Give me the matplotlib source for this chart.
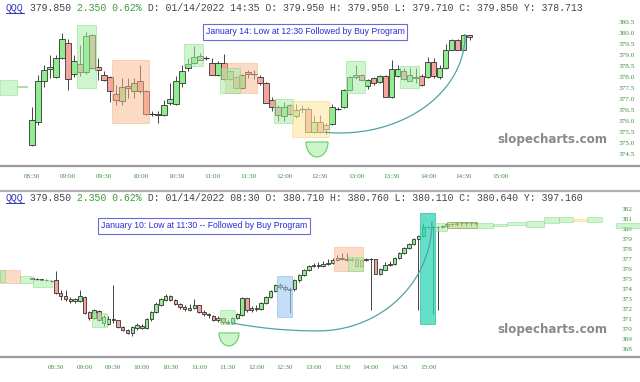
import numpy as np
import matplotlib
matplotlib.use('Agg')
import matplotlib.pyplot as plt
import matplotlib.transforms as mtransforms
from matplotlib.patches import Rectangle, Polygon

W, H = 640, 382

# ---------------- data: Jan 14 (top), 5-min candles from 08:30
top_open = [374.95, 376.00, 377.85, 378.40, 378.05, 378.90, 379.60, 378.20, 378.65, 378.25, 379.95, 378.50,
            378.15, 378.05, 377.25, 376.95, 377.65, 377.40, 377.85, 377.40, 376.35, 376.35, 376.30, 376.85,
            376.80, 377.75, 378.45, 378.70, 379.00, 378.90, 378.70, 378.15, 378.70, 377.95, 378.05, 377.55,
            378.25, 378.20, 378.05, 377.75, 377.00, 376.70, 376.25, 376.75, 376.25, 376.60, 376.60, 375.55,
            376.00, 375.70, 375.90, 376.60, 376.70, 377.45, 378.05, 378.15, 377.65, 378.00, 377.80, 378.10,
            377.15, 378.10, 378.30, 377.88, 378.05, 378.10, 378.06, 378.74, 378.06, 378.44, 379.27, 379.73,
            379.27, 379.95]
top_high = [376.70, 378.15, 378.60, 379.05, 379.05, 380.05, 379.75, 379.05, 379.50, 380.10, 380.00, 378.90,
            378.30, 378.10, 377.70, 378.00, 378.00, 378.00, 378.60, 377.45, 376.50, 376.50, 377.00, 377.75,
            378.10, 378.60, 378.90, 379.45, 379.15, 379.00, 378.90, 378.75, 379.10, 378.35, 378.10, 378.20,
            378.35, 378.35, 378.15, 377.80, 377.15, 376.75, 376.90, 376.80, 376.80, 376.75, 376.70, 376.30,
            376.30, 375.95, 376.80, 376.70, 377.50, 378.10, 378.60, 378.20, 377.95, 378.05, 378.15, 378.15,
            378.80, 378.60, 378.45, 378.45, 378.45, 378.20, 378.95, 378.90, 378.60, 379.55, 379.75, 379.75,
            380.00, 379.95]
top_low = [374.90, 375.85, 377.60, 378.00, 378.00, 378.85, 377.45, 378.05, 378.10, 378.20, 378.40, 377.90,
           377.85, 376.90, 376.75, 376.75, 377.10, 377.10, 377.30, 376.30, 376.25, 375.95, 376.25, 376.75,
           376.75, 377.60, 378.30, 378.65, 378.80, 378.80, 378.15, 378.10, 377.90, 377.90, 377.50, 377.50,
           378.00, 377.95, 377.70, 376.85, 376.50, 376.05, 376.05, 376.30, 376.20, 376.40, 375.55, 375.50,
           375.50, 375.45, 375.85, 376.55, 376.65, 377.40, 377.95, 377.85, 377.50, 377.70, 377.75, 377.15,
           377.10, 378.05, 377.90, 377.85, 377.75, 377.65, 378.00, 378.00, 377.95, 378.40, 379.25, 379.25,
           379.25, 379.71]
top_close = [376.10, 377.85, 378.35, 378.50, 378.90, 379.75, 377.95, 378.75, 378.25, 379.90, 378.45, 378.35,
             377.90, 377.40, 377.00, 377.60, 377.55, 377.75, 377.40, 376.35, 376.35, 376.30, 376.75, 377.05,
             377.85, 378.30, 378.65, 378.95, 378.80, 378.90, 378.15, 378.70, 377.95, 378.30, 377.55, 378.15,
             378.20, 378.20, 377.75, 376.85, 376.70, 376.30, 376.70, 376.35, 376.55, 376.60, 375.55, 376.00,
             375.55, 375.85, 376.70, 376.60, 377.45, 378.05, 378.15, 377.90, 377.90, 377.75, 378.10, 377.15,
             378.40, 378.42, 377.95, 378.14, 378.00, 377.70, 378.74, 378.09, 378.47, 379.27, 379.73, 379.27,
             379.95, 379.85]

# ---------------- data: Jan 10 (bottom), 5-min candles from 08:05
bot_open = [375.10, 375.05, 375.00, 374.95, 374.90, 374.90, 373.70, 373.35, 373.10, 372.85, 372.90,
            373.30, 371.75, 371.15, 371.90, 370.70, 370.55, 371.05, 370.95, 370.30, 369.95, 369.65, 370.20,
            370.40, 370.20, 371.05, 371.75, 372.50, 373.00, 373.40, 373.00, 372.60, 372.30, 372.00, 372.20,
            372.45, 371.80, 371.60, 371.40, 371.00, 371.15, 370.75, 370.70, 371.20, 371.50, 373.15, 371.95,
            372.20, 372.10, 372.70, 373.30, 373.90, 374.45, 374.30, 374.10, 374.05, 374.90, 375.40, 375.90,
            376.30, 376.45, 376.30, 376.50, 376.60, 376.90, 377.10, 377.00, 376.95, 377.00, 376.30, 376.90,
            377.00, 377.00, 375.50, 375.95, 376.40, 376.50, 377.10, 377.60, 378.10, 378.50, 379.00, 379.30,
            380.25, 380.20, 380.20, 380.20, 380.30, 380.50, 380.55, 380.60, 380.60, 380.65, 380.60]
bot_high = [375.15, 375.10, 375.05, 375.00, 374.95, 375.80, 374.00, 374.00, 373.30, 373.20, 374.00,
            373.40, 371.90, 372.10, 372.00, 371.50, 371.40, 374.45, 371.00, 370.40, 370.10, 370.40, 370.70,
            370.60, 371.20, 371.90, 372.80, 373.20, 373.55, 373.50, 373.10, 372.70, 372.50, 372.60, 373.10,
            372.50, 372.00, 371.70, 371.50, 371.40, 371.20, 371.00, 371.30, 371.70, 373.30, 373.20, 372.40,
            372.50, 372.80, 373.40, 374.00, 374.60, 374.70, 374.50, 374.30, 375.00, 375.50, 376.00, 376.40,
            376.60, 376.70, 376.80, 377.00, 377.10, 377.40, 377.60, 377.60, 377.20, 377.10, 377.00, 377.10,
            377.10, 377.05, 376.10, 376.70, 376.80, 377.20, 377.70, 378.20, 378.60, 379.10, 379.40, 380.60,
            380.35, 380.30, 380.30, 380.45, 380.60, 380.65, 380.70, 380.70, 380.75, 380.75, 380.70]
bot_low = [375.05, 374.95, 374.90, 374.85, 374.80, 373.60, 373.00, 372.90, 372.70, 372.70, 372.80,
           371.60, 371.00, 371.10, 370.90, 370.35, 370.50, 370.70, 370.20, 369.85, 369.55, 369.35, 370.00,
           370.05, 370.10, 370.90, 371.70, 372.40, 372.90, 372.85, 372.45, 372.10, 371.90, 371.90, 372.10,
           371.70, 371.40, 371.20, 370.85, 370.80, 370.60, 370.55, 370.60, 371.10, 371.40, 371.80, 371.80,
           371.90, 372.00, 372.60, 373.20, 373.80, 374.10, 373.90, 371.70, 373.90, 374.80, 375.30, 375.80,
           376.20, 376.10, 376.20, 376.40, 376.50, 376.80, 376.90, 376.80, 376.80, 376.20, 376.20, 376.80,
           372.00, 375.50, 375.45, 375.90, 376.30, 376.40, 377.00, 377.50, 378.00, 378.40, 372.00, 379.20,
           380.10, 371.60, 372.00, 380.10, 380.25, 380.35, 380.30, 380.30, 380.35, 380.30, 380.40]
bot_close = [375.05, 375.00, 374.95, 374.90, 374.88, 373.70, 373.35, 373.10, 372.85, 373.05, 373.40,
             371.70, 371.20, 371.95, 370.95, 371.30, 371.10, 371.00, 370.25, 369.95, 369.70, 370.30, 370.45,
             370.20, 371.10, 371.80, 372.60, 373.05, 373.40, 373.00, 372.60, 372.30, 372.10, 372.20, 372.45,
             371.80, 371.60, 371.45, 370.95, 371.20, 370.75, 370.70, 371.20, 371.60, 373.20, 371.95, 372.20,
             372.10, 372.70, 373.30, 373.90, 374.50, 374.30, 374.10, 374.00, 374.90, 375.40, 375.90, 376.30,
             376.45, 376.30, 376.50, 376.60, 376.90, 377.10, 377.00, 376.95, 377.00, 376.30, 376.90, 377.00,
             377.00, 375.55, 376.00, 376.40, 376.50, 377.10, 377.60, 378.10, 378.50, 379.00, 379.30, 380.20,
             380.20, 380.20, 380.20, 380.30, 380.50, 380.55, 380.60, 380.60, 380.65, 380.60, 380.60]

tick_times = ['08:30', '09:00', '09:30', '10:00', '10:30', '11:00', '11:30',
              '12:00', '12:30', '13:00', '13:30', '14:00', '14:30', '15:00']
top_yticks = [380.5, 380.0, 379.5, 379.0, 378.5, 378.0, 377.5, 377.0, 376.5, 376.0, 375.5, 375.0, 374.5]
bot_yticks = [382, 381, 380, 379, 378, 377, 376, 375, 374, 373, 372, 371, 370, 369, 368]

# highlight boxes: (start min, end min, low, high, kind)
top_boxes = [(483.3, 497.5, 377.23, 377.91, 'green'),
             (547.5, 563.5, 377.55, 380.41, 'green'),
             (576.7, 607.5, 375.95, 378.82, 'orange'),
             (636.7, 652.5, 378.55, 379.55, 'green'),
             (670.8, 697.5, 377.32, 378.68, 'orange'),
             (666.7, 683.3, 377.32, 378.45, 'green'),
             (711.7, 727.5, 375.95, 377.05, 'green'),
             (726.7, 757.5, 375.32, 376.95, 'yellow'),
             (771.7, 787.5, 377.32, 378.77, 'green'),
             (816.7, 832.5, 377.55, 378.55, 'green')]
bot_boxes = [(451.3, 472.3, 374.65, 375.94, 'orange'),
             (451.3, 456.5, 374.80, 375.90, 'green'),
             (472.3, 485.9, 374.65, 375.35, 'green'),
             (485.9, 505.8, 374.25, 374.95, 'green'),
             (547.7, 563.5, 370.28, 371.67, 'green'),
             (681.9, 697.6, 370.58, 371.97, 'green'),
             (741.7, 757.4, 371.27, 375.35, 'blue'),
             (801.4, 831.8, 375.85, 378.20, 'orange'),
             (816.1, 831.8, 375.85, 377.20, 'green'),
             (891.5, 907.3, 370.58, 381.60, 'teal'),
             (907.3, 919.9, 379.80, 380.60, 'green'),
             (919.9, 951.3, 380.10, 380.70, 'olive'),
             (951.3, 968.1, 380.08, 380.64, 'green'),
             (968.1, 982.7, 380.30, 380.50, 'green'),
             (982.7, 1002.6, 380.40, 380.70, 'green'),
             (1002.6, 1021.5, 380.18, 380.78, 'green'),
             (1021.5, 1037.3, 380.64, 381.18, 'green'),
             (1037.3, 1051.9, 380.70, 381.18, 'green'),
             (1051.9, 1066.6, 380.78, 381.04, 'yellow'),
             (1066.6, 1082.3, 380.70, 381.18, 'green'),
             (1097.0, 1122.0, 380.08, 380.64, 'green')]

BOX_STYLE = {'green': ('#a6eea6', '#7fd87f', 0.55),
             'orange': ('#f9b88f', '#f3a57a', 0.5),
             'yellow': ('#fde6a3', '#f5d47a', 0.6),
             'blue': ('#9cc9f0', '#7ab3e6', 0.6),
             'teal': ('#30d6b8', '#1fb89c', 0.75),
             'olive': ('#b9dc8a', '#6f8f3a', 0.7)}

GREEN_T = '#3d8f3d'


def mins(s):
    h, m = s.split(':')
    return int(h) * 60 + int(m)


def draw_candles(ax, start, o, h, l, c, width):
    t0 = mins(start)
    for i in range(len(o)):
        t = t0 + 5 * i
        ax.vlines(t, l[i], h[i], color='#444444', lw=0.7, zorder=2)
        lo, hi = min(o[i], c[i]), max(o[i], c[i])
        fc = '#8fec8f' if c[i] >= o[i] else '#f4a49c'
        if hi - lo < 0.03:
            ax.hlines((lo + hi) / 2, t - width / 2, t + width / 2, color='#333333', lw=0.8, zorder=3)
        else:
            ax.add_patch(Rectangle((t - width / 2, lo), width, hi - lo, fc=fc, ec='#333333',
                                   lw=0.6, zorder=3))


def draw_boxes(ax, boxes):
    for t0, t1, p0, p1, kind in boxes:
        fc, ec, a = BOX_STYLE[kind]
        ax.add_patch(Rectangle((t0, p0), t1 - t0, p1 - p0, fc=fc, ec=ec, lw=0.6,
                               alpha=a, zorder=4))


def half_circle(ax, cx, top, rx, ry):
    th = np.linspace(0, np.pi, 50)
    pts = np.column_stack([cx + rx * np.cos(th), top - ry * np.sin(th)])
    ax.add_patch(Polygon(pts, closed=True, fc='#ccf5cc', ec='#6acb6a', lw=0.8, zorder=4))


def arc(ax, cx, cy, rx_left, rx_right, ry, th0):
    th = np.linspace(th0, np.pi / 2, 150)
    rx = np.where(th < 0, rx_left, rx_right)
    ax.plot(cx + rx * np.sin(th), cy - ry * np.cos(th), color='#4fa3a6', lw=0.9, zorder=5)


def setup_axes(ax, xlim, ylim, yticks, fmt):
    ax.set_xlim(*xlim)
    ax.set_ylim(*ylim)
    for s in ['top', 'left', 'right']:
        ax.spines[s].set_visible(False)
    ax.spines['bottom'].set_color('#9a9a9a')
    ax.spines['bottom'].set_linewidth(1.6)
    ax.set_yticks([])
    ax.set_xticks([mins(s) for s in tick_times])
    ax.set_xticklabels(tick_times, family='Liberation Serif', fontsize=5.2, color=GREEN_T)
    ax.tick_params(axis='x', length=0, pad=6)
    trans = mtransforms.blended_transform_factory(ax.transAxes, ax.transData)
    for v in yticks:
        ax.text(627 / W, v, fmt % v, transform=trans, ha='center', va='center',
                family='Liberation Serif', fontsize=5.2, color=GREEN_T)
    ax.set_facecolor('none')


def header(y_px, parts):
    x = 6
    cw = 5.92
    for text, color in parts:
        fig.text(x / W, 1 - y_px / H, text, family='Liberation Mono', fontsize=7.1,
                 color=color, ha='left', va='center')
        x += cw * len(text)
    fig.add_artist(plt.Line2D([6 / W, (6 + 3 * cw) / W], [1 - (y_px + 4.5) / H] * 2,
                              color='#3535c0', lw=0.7))


def note(ax, x_px, y_px, text):
    fig.text(x_px / W, 1 - y_px / H, text, family='Liberation Sans', fontsize=6.2,
             color='#2b2bd6', ha='center', va='center',
             bbox=dict(boxstyle='square,pad=0.35', fc='white', ec='#6a6ad6', lw=0.8))


def watermark(y_px):
    fig.text(552 / W, 1 - y_px / H, 'slopecharts.com', family='DejaVu Sans', weight='bold',
             fontsize=8.6, color='#8a8a8a', ha='center', va='center')


fig = plt.figure(figsize=(W / 100, H / 100), dpi=100)
fig.patch.set_facecolor('white')

# top panel
ax1 = fig.add_axes([0, 1 - 166 / H, 1, (166 - 15) / H])
setup_axes(ax1, (483.33, 1016.7), (374.0, 380.86), top_yticks, '%.1f')
draw_candles(ax1, '08:30', top_open, top_high, top_low, top_close, 4.2)
draw_boxes(ax1, top_boxes)
ax1.hlines(377.59, 497.5, 506.7, color='#8fe08f', lw=1.2, zorder=4)
half_circle(ax1, 747.5, 375.09, 9.2, 0.68)
arc(ax1, 766.7, 379.95, 104.2, 104.2, 4.45, -0.12)

# bottom panel
ax2 = fig.add_axes([0, 1 - 357 / H, 1, (357 - 205) / H])
setup_axes(ax2, (451.3, 1122.2), (367.3, 382.4), bot_yticks, '%d')
draw_candles(ax2, '08:05', bot_open, bot_high, bot_low, bot_close, 3.6)
draw_boxes(ax2, bot_boxes)
half_circle(ax2, 691.3, 369.69, 10.5, 1.29)
arc(ax2, 784.6, 380.71, 240.0, 119.5, 10.82, -0.385)

fig.add_artist(plt.Line2D([0, 1], [1 - 191 / H] * 2, color='#b0b0b0', lw=1.6))

header(8, [('QQQ', '#3535c0'), (' 379.850', '#444444'), (' 2.350 0.62%', '#3c9a3c'),
           (' D: 01/14/2022 14:35 O: 379.950 H: 379.950 L: 379.710 C: 379.850 Y: 378.713', '#444444')])
header(198, [('QQQ', '#3535c0'), (' 379.850', '#444444'), (' 2.350 0.62%', '#3c9a3c'),
             (' D: 01/14/2022 08:30 O: 380.710 H: 380.760 L: 380.110 C: 380.640 Y: 397.160', '#444444')])

note(ax1, 305, 32, 'January 14: Low at 12:30 Followed by Buy Program')
note(ax2, 204, 226, 'January 10: Low at 11:30 -- Followed by Buy Program')
watermark(139)
watermark(330)

fig.savefig('out.png', dpi=100)
